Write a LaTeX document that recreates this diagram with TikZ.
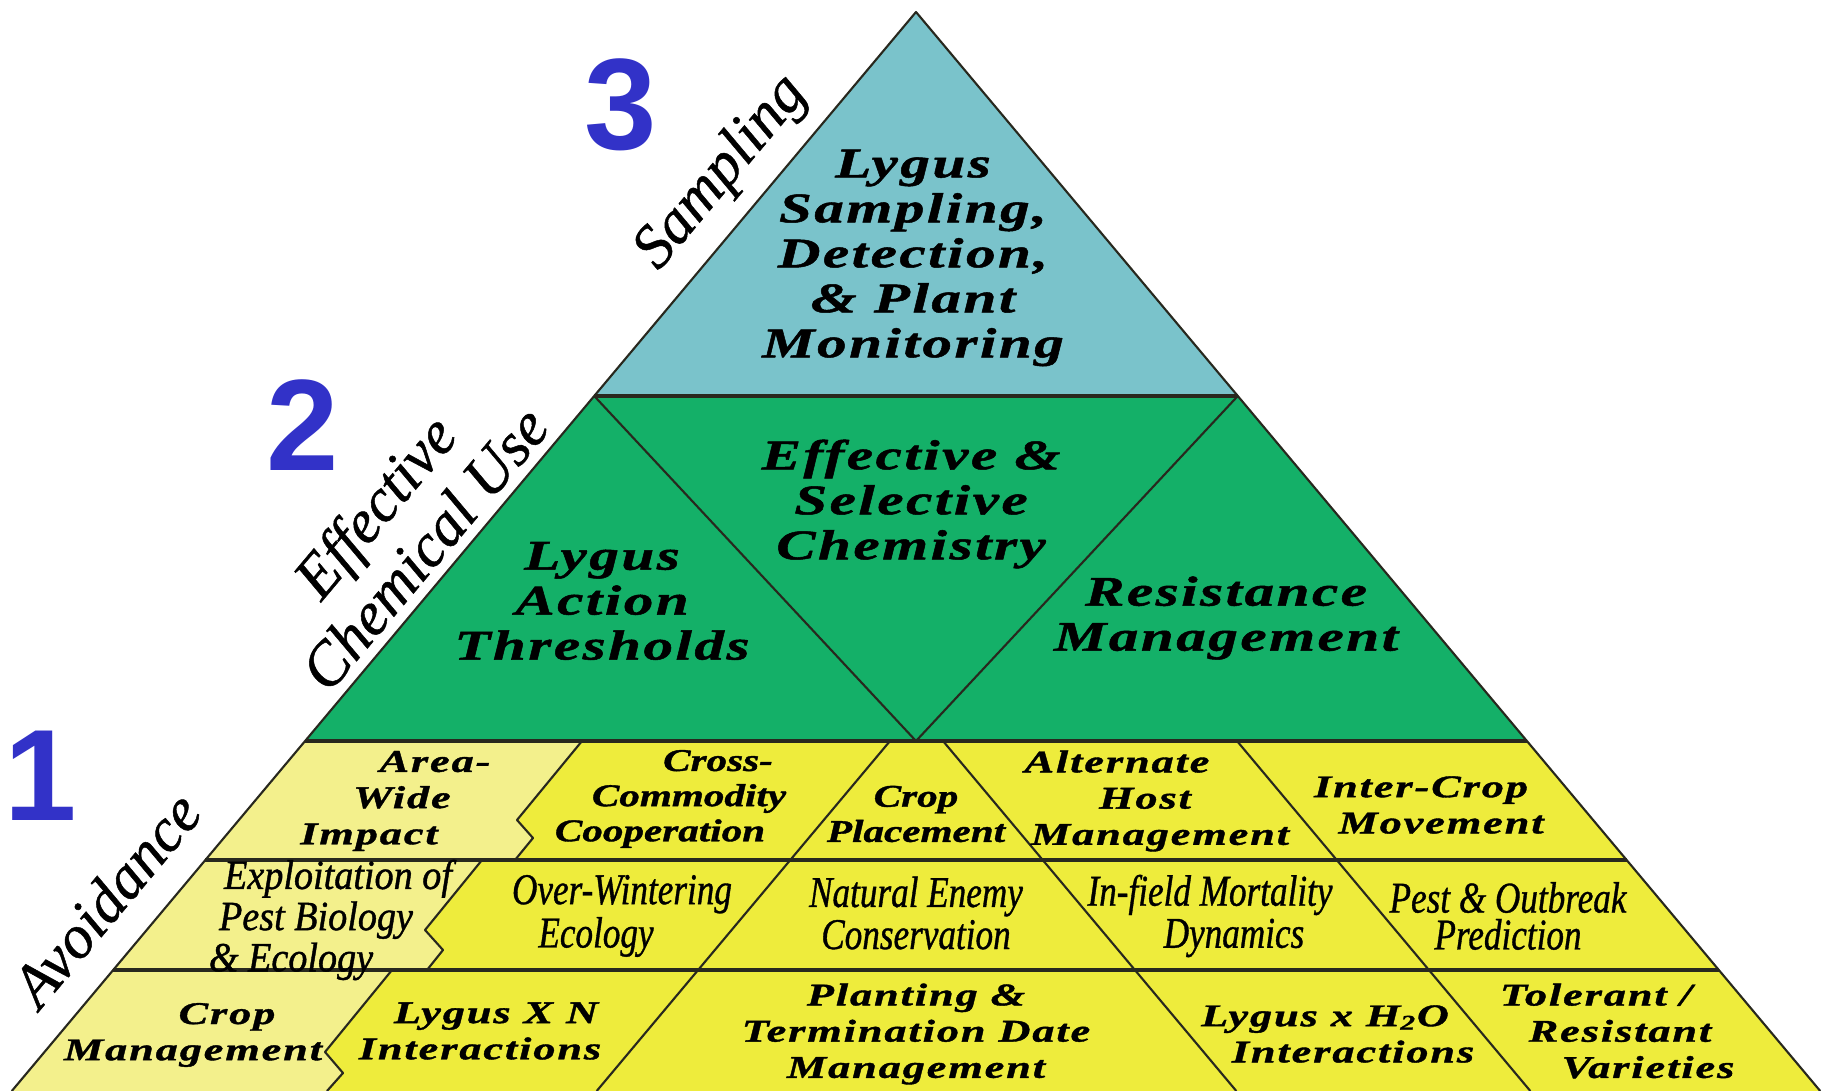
\documentclass[tikz,border=0pt]{standalone}
\usepackage{fontspec}
\setmainfont{Liberation Serif}
\newfontfamily\widefont[FakeStretch=1.4,LetterSpace=6,FakeBold=1.2]{Liberation Serif}
\newfontfamily\tightfont[FakeStretch=1.3,FakeBold=1.2]{Liberation Serif}
\newfontfamily\narrowfont[FakeStretch=0.8,FakeBold=0.8]{Liberation Serif}
\newfontfamily\halfnarrowfont[FakeStretch=0.92,FakeBold=1]{Liberation Serif}
\newfontfamily\sidefont[FakeBold=0.8]{Liberation Serif}
\newfontfamily\numfont{Liberation Sans}
\definecolor{skyfill}{RGB}{122,195,203}
\definecolor{chemfill}{RGB}{20,176,104}
\definecolor{avoidfill}{RGB}{238,236,60}
\definecolor{palefill}{RGB}{243,240,140}
\definecolor{stepblue}{RGB}{50,50,200}
\definecolor{edge}{RGB}{40,40,30}
\newcommand{\mv}[2]{\hspace*{#1}#2\hspace*{-#1}}
\tikzset{
  thinline/.style={draw=edge, line width=0.6pt, line join=round},
  rowline/.style={draw=edge, line width=1pt},
  toptext/.style={inner sep=0pt, align=center, font=\widefont\bfseries\itshape\fontsize{12}{12.8}\selectfont},
  celltext/.style={inner sep=0pt, align=center, font=\widefont\bfseries\itshape\fontsize{9}{10.3}\selectfont},
  tighttext/.style={inner sep=0pt, align=center, font=\tightfont\bfseries\itshape\fontsize{9}{10}\selectfont},
  narrowtext/.style={inner sep=0pt, align=center, font=\narrowfont\itshape\fontsize{12.5}{10.5}\selectfont},
  exploittext/.style={narrowtext, font=\halfnarrowfont\itshape\fontsize{11.8}{10.2}\selectfont},
  sidetext/.style={inner sep=0pt, align=center, rotate=50, font=\sidefont\itshape\fontsize{17.5}{18.5}\selectfont},
  stepnum/.style={inner sep=0pt, text=stepblue, font=\numfont\bfseries\fontsize{37}{37}\selectfont}
}
\begin{document}
\begin{tikzpicture}[x=0.1mm,y=-0.1mm]
  %%%%% START %%%%%
  \useasboundingbox (0,0) rectangle (1829,1091);

  \fill[skyfill] (916,12) -- (1237.8,396) -- (594.2,396) -- cycle;
  \fill[chemfill] (594.2,396) -- (1237.8,396) -- (1526.9,741) -- (305.1,741) -- cycle;
  \fill[avoidfill] (305.1,741) -- (1526.9,741) -- (1820.2,1091) -- (11.8,1091) -- cycle;

  \fill[palefill] (305.1,741) -- (582,741) -- (517,820) -- (533,838) -- (515,860) -- (205.4,860) -- cycle;
  \fill[palefill] (205.4,860) -- (482,860) -- (425,930) -- (443,950) -- (427,970) -- (113.2,970) -- cycle;
  \fill[palefill] (113.2,970) -- (392,970) -- (325,1052) -- (343,1073) -- (327,1091) -- (11.8,1091) -- cycle;

  \draw[thinline] (594.2,396) -- (916,741) -- (1237.8,396);
  \draw[thinline] (890,741) -- (596.7,1091);
  \draw[thinline] (943,741) -- (1236.3,1091);
  \draw[thinline] (1237,741) -- (1530.3,1091);
  \draw[thinline] (582,741) -- (517,820) -- (533,838) -- (515,860);
  \draw[thinline] (482,860) -- (425,930) -- (443,950) -- (427,970);
  \draw[thinline] (392,970) -- (325,1052) -- (343,1073) -- (327,1091);

  \draw[rowline] (594.2,396) -- (1237.8,396);
  \draw[rowline] (305.1,741) -- (1526.9,741);
  \draw[rowline] (205.4,860) -- (1626.6,860);
  \draw[rowline] (113.2,970) -- (1718.8,970);
  \draw[thinline] (11.8,1091) -- (916,12) -- (1820.2,1091);

  \node[toptext] (monitor) at (913,258) {Lygus\\Sampling,\\Detection,\\\& Plant\\Monitoring};
  \node[toptext] (chemistry) at (911,504) {Effective \&\\Selective\\Chemistry};
  \node[toptext] (thresh) at (602,601) {Lygus\\Action\\Thresholds};
  \node[toptext] (resist) at (1226,618) {Resistance\\Management};

  \node[celltext] (areawide) at (402,801) {\mv{3.3mm}{Area-}\\Wide\\\mv{-3.3mm}{Impact}};
  \node[tighttext] (crosscom) at (689,799) {\mv{2.9mm}{Cross-}\\Commodity\\\mv{-2.9mm}{Cooperation}};
  \node[tighttext] (placement) at (916,814) {Crop\\Placement};
  \node[celltext] (althost) at (1145,801) {\mv{-2.8mm}{Alternate}\\Host\\\mv{1.5mm}{Management}};
  \node[celltext] (intercrop) at (1431,805) {\mv{-1mm}{Inter-Crop}\\\mv{1mm}{Movement}};

  \node[exploittext] (exploit) at (316,920) {\mv{2.2mm}{Exploitation of}\\Pest Biology\\\mv{-2.5mm}{\& Ecology}};
  \node[narrowtext] (winter) at (609,916) {\mv{1.3mm}{Over-Wintering}\\\mv{-1.3mm}{Ecology}};
  \node[narrowtext] (enemy) at (916,913) {Natural Enemy\\Conservation};
  \node[narrowtext] (mortality) at (1222,916) {\mv{-1.2mm}{In-field Mortality}\\\mv{1.2mm}{Dynamics}};
  \node[narrowtext] (outbreak) at (1508,916) {Pest \& Outbreak\\Prediction};

  \node[celltext] (cropmgmt) at (210,1035) {\mv{1.7mm}{Crop}\\\mv{-1.7mm}{Management}};
  \node[celltext] (nitrogen) at (488,1031) {\mv{0.8mm}{Lygus X N}\\\mv{-0.8mm}{Interactions}};
  \node[celltext] (planting) at (916,1034) {Planting \&\\Termination Date\\Management};
  \node[celltext] (water) at (1339,1034) {\mv{-1.4mm}{Lygus x H\textsubscript{2}O}\\\mv{1.4mm}{Interactions}};
  \node[celltext] (tolerant) at (1620,1031) {\mv{-2.4mm}{Tolerant /}\\Resistant\\\mv{2.8mm}{Varieties}};

  \node[sidetext] (sampling) at (722,173) {Sampling};
  \node[sidetext] (chemuse) at (399,527) {Effective\\Chemical Use};
  \node[sidetext] (avoid) at (106,899) {Avoidance};

  \node[stepnum] (three) at (621,105) {3};
  \node[stepnum] (two) at (303,425) {2};
  \node[stepnum] (one) at (41,776) {1};
  %%%%% END %%%%%
\end{tikzpicture}
\end{document}
